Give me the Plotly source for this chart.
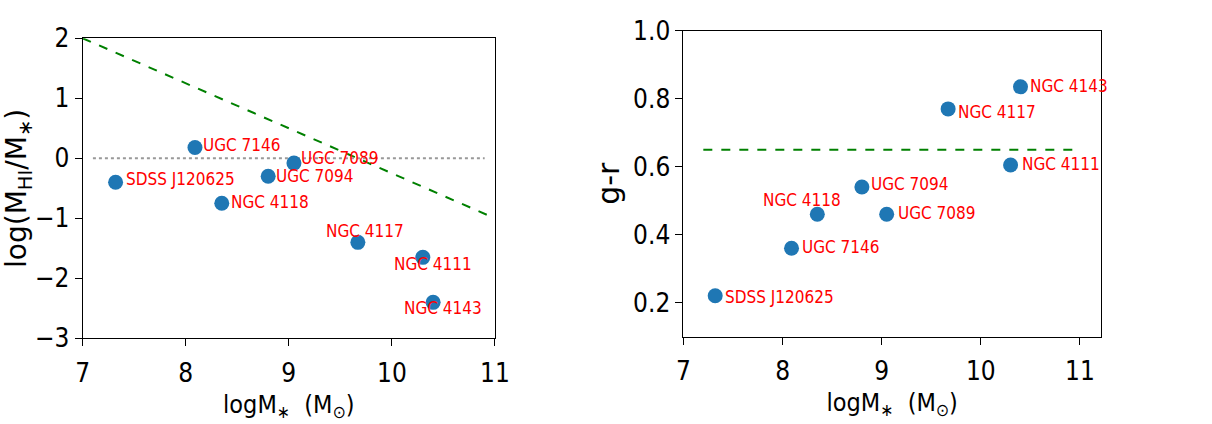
import plotly.graph_objects as go

names = ["SDSS J120625", "UGC 7146", "NGC 4118", "UGC 7094", "UGC 7089", "NGC 4117", "NGC 4111", "NGC 4143"]
log_mstar = [7.32, 8.09, 8.35, 8.80, 9.05, 9.67, 10.30, 10.40]
log_hi_ratio = [-0.40, 0.18, -0.75, -0.30, -0.08, -1.40, -1.65, -2.40]
g_minus_r = [0.22, 0.36, 0.46, 0.54, 0.46, 0.77, 0.605, 0.835]

green_left_x = [7.0, 11.0]
green_left_y = [2.0, -1.0]
zero_x = [7.1, 10.9]
zero_y = [0.0, 0.0]
green_right_x = [7.2, 11.0]
green_right_y = [0.65, 0.65]

# label offsets in pixels (dx of text start, dy of text centre, up positive)
left_offsets = [(8, 3), (6, 2), (7, 1), (6, 0), (5, 5), (-34, 11), (-31, -7), (-31, -6)]
right_offsets = [(8, -1), (8, 1), (-56, 14), (7, 3), (9, 1), (8, -3), (9, 1), (8, 1)]

FONT = "DejaVu Sans Condensed, DejaVu Sans, sans-serif"
FONT_N = "DejaVu Sans, sans-serif"
BLUE = "#1f77b4"

fig = go.Figure()

fig.add_trace(go.Scatter(x=green_left_x, y=green_left_y, mode="lines",
                         line=dict(color="#008000", width=2, dash="dash"),
                         xaxis="x", yaxis="y", showlegend=False, cliponaxis=True))
fig.add_trace(go.Scatter(x=zero_x, y=zero_y, mode="lines",
                         line=dict(color="#999999", width=2, dash="dot"),
                         xaxis="x", yaxis="y", showlegend=False))
fig.add_trace(go.Scatter(x=log_mstar, y=log_hi_ratio, mode="markers",
                         marker=dict(color=BLUE, size=15),
                         xaxis="x", yaxis="y", showlegend=False))

fig.add_trace(go.Scatter(x=green_right_x, y=green_right_y, mode="lines",
                         line=dict(color="#008000", width=2, dash="dash"),
                         xaxis="x2", yaxis="y2", showlegend=False))
fig.add_trace(go.Scatter(x=log_mstar, y=g_minus_r, mode="markers",
                         marker=dict(color=BLUE, size=15),
                         xaxis="x2", yaxis="y2", showlegend=False))

annotations = []
for n, xv, yv, (dx, dy) in zip(names, log_mstar, log_hi_ratio, left_offsets):
    annotations.append(dict(x=xv, y=yv, xref="x", yref="y", text=n, showarrow=False,
                            xanchor="left", yanchor="middle", xshift=dx, yshift=dy,
                            font=dict(family=FONT, size=17, color="red")))
for n, xv, yv, (dx, dy) in zip(names, log_mstar, g_minus_r, right_offsets):
    annotations.append(dict(x=xv, y=yv, xref="x2", yref="y2", text=n, showarrow=False,
                            xanchor="left", yanchor="middle", xshift=dx, yshift=dy,
                            font=dict(family=FONT, size=17, color="red")))

axis_common = dict(showline=True, linecolor="black", linewidth=1, mirror=True,
                   ticks="outside", ticklen=7, tickcolor="black", showgrid=False,
                   zeroline=False, tickfont=dict(family=FONT, size=26, color="black"))

fig.update_layout(
    width=1212, height=424,
    margin=dict(l=0, r=0, t=0, b=0),
    paper_bgcolor="white", plot_bgcolor="white",
    annotations=annotations,
    xaxis=dict(domain=[77/1212, 497/1212], range=[7, 11], tickvals=[7, 8, 9, 10, 11],
               ticklabelstandoff=4,
               title=dict(text="logM<sub>∗</sub>  (M<sub>⊙</sub>)", standoff=8,
                          font=dict(family=FONT, size=25, color="black")),
               anchor="y", **axis_common),
    yaxis=dict(domain=[1-348/424, 1-25/424], range=[-3, 2], tickvals=[-3, -2, -1, 0, 1, 2],
               title=dict(text="log(M<sub>HI</sub>/M<sub>∗</sub>)", standoff=2,
                          font=dict(family=FONT_N, size=28, color="black")),
               anchor="x", **axis_common),
    xaxis2=dict(domain=[689/1212, 1114/1212], range=[7, 11.21], tickvals=[7, 8, 9, 10, 11],
                ticklabelstandoff=4,
                title=dict(text="logM<sub>∗</sub>  (M<sub>⊙</sub>)", standoff=8,
                           font=dict(family=FONT, size=25, color="black")),
                anchor="y2", **axis_common),
    yaxis2=dict(domain=[1-346/424, 1-17/424], range=[0.1, 1.0],
                tickvals=[0.2, 0.4, 0.6, 0.8, 1.0], ticktext=["0.2", "0.4", "0.6", "0.8", "1.0"],
                title=dict(text="g-r", standoff=4,
                           font=dict(family=FONT_N, size=30, color="black")),
                anchor="x2", **axis_common),
)

fig.write_html("out.html")
